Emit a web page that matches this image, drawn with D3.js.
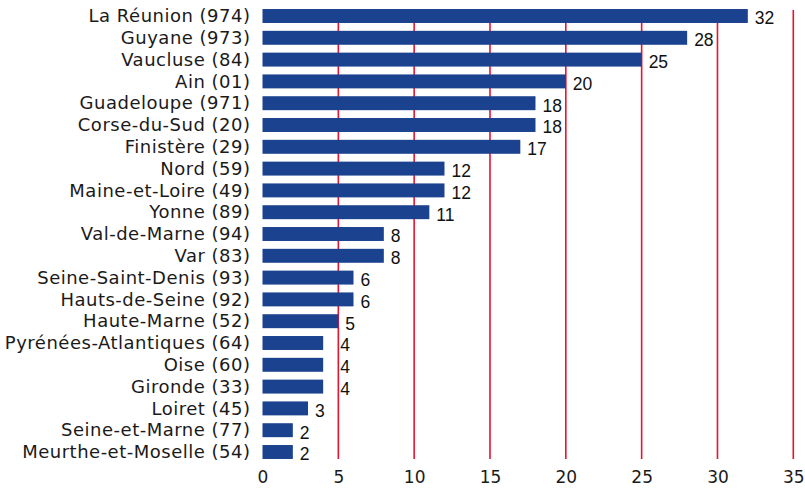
<!DOCTYPE html>
<html>
<head>
<meta charset="utf-8">
<script src="https://cdn.jsdelivr.net/npm/d3@7"></script>
<style>
  body { margin: 0; background: #fff; }
  .catLabel { font-family: "DejaVu Sans", sans-serif; font-size: 18px; letter-spacing: 0.5px; fill: #1a1a1a; }
  .valLabel { font-family: "Liberation Sans", Arial, sans-serif; font-size: 17.5px; fill: #111; }
  .tickLabel { font-family: "DejaVu Sans", sans-serif; font-size: 17px; fill: #1a1a1a; }
</style>
</head>
<body>
<div id="chart"></div>
<script>
// Chart Params
var svgWidth = 805;
var svgHeight = 489;

// departments and counts, top to bottom
var departments = [
  "La Réunion (974)", "Guyane (973)", "Vaucluse (84)", "Ain (01)",
  "Guadeloupe (971)", "Corse-du-Sud (20)", "Finistère (29)", "Nord (59)",
  "Maine-et-Loire (49)", "Yonne (89)", "Val-de-Marne (94)", "Var (83)",
  "Seine-Saint-Denis (93)", "Hauts-de-Seine (92)", "Haute-Marne (52)",
  "Pyrénées-Atlantiques (64)", "Oise (60)", "Gironde (33)", "Loiret (45)",
  "Seine-et-Marne (77)", "Meurthe-et-Moselle (54)"
];
var counts = [32, 28, 25, 20, 18, 18, 17, 12, 12, 11, 8, 8, 6, 6, 5, 4, 4, 4, 3, 2, 2];
var xTicks = [0, 5, 10, 15, 20, 25, 30, 35];

var data = departments.map((d, i) => ({ name: d, value: counts[i] }));

var svg = d3.select("#chart")
  .append("svg")
  .attr("width", svgWidth)
  .attr("height", svgHeight);

// scales
var xScale = d3.scaleLinear()
  .domain([0, 35])
  .range([262.5, 793.3]);

var yScale = d3.scaleBand()
  .domain(departments)
  .range([5.1, 462.9])
  .paddingInner(0.36)
  .paddingOuter(0.18);

var gridTicks = xTicks.filter(t => t > 0);

// red gridlines (behind bars)
svg.append("g")
  .selectAll("line")
  .data(gridTicks)
  .enter()
  .append("line")
  .attr("x1", d => xScale(d))
  .attr("x2", d => xScale(d))
  .attr("y1", 10)
  .attr("y2", 459)
  .attr("stroke", "#e8132f")
  .attr("stroke-width", 1.6);

// bars
svg.append("g")
  .selectAll("rect")
  .data(data)
  .enter()
  .append("rect")
  .attr("x", xScale(0))
  .attr("y", d => yScale(d.name))
  .attr("width", d => xScale(d.value) - xScale(0))
  .attr("height", yScale.bandwidth())
  .attr("fill", "#1b428f");

// value labels, pushed past a gridline when they would sit on it
function labelX(d) {
  var x = xScale(d.value) + 7;
  var w = String(d.value).length * 10;
  gridTicks.forEach(t => {
    var gx = xScale(t);
    if (gx > x && gx < x + w) x = gx + 2;
  });
  return x;
}

svg.append("g")
  .selectAll("text")
  .data(data)
  .enter()
  .append("text")
  .attr("class", "valLabel")
  .attr("x", labelX)
  .attr("y", d => yScale(d.name) + yScale.bandwidth() / 2 + 2)
  .attr("dy", "0.36em")
  .text(d => d.value);

// category axis
var leftAxis = d3.axisLeft(yScale).tickSize(0).tickPadding(12);
var yAxis = svg.append("g")
  .attr("transform", `translate(${xScale(0)}, 0)`)
  .call(leftAxis);
yAxis.select(".domain").remove();
yAxis.selectAll("text")
  .attr("class", "catLabel")
  .attr("dy", "0.34em")
  .attr("font-family", null)
  .attr("font-size", null)
  .attr("fill", null);

// x axis
var bottomAxis = d3.axisBottom(xScale).tickValues(xTicks).tickSize(0).tickPadding(0);
var xAxis = svg.append("g")
  .attr("transform", "translate(0, 471)")
  .call(bottomAxis);
xAxis.select(".domain").remove();
xAxis.selectAll("text")
  .attr("class", "tickLabel")
  .attr("font-family", null)
  .attr("font-size", null)
  .attr("fill", null);
</script>
</body>
</html>
